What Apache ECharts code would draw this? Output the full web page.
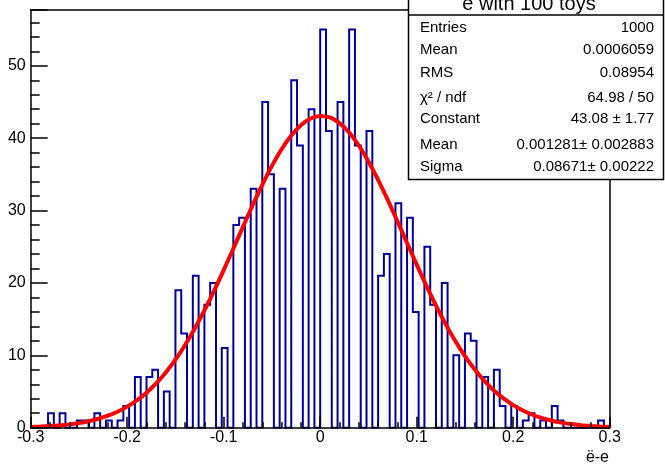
<!DOCTYPE html>
<html>
<head>
<meta charset="utf-8">
<script src="https://cdn.jsdelivr.net/npm/echarts@6/dist/echarts.min.js"></script>
<style>
html,body{margin:0;padding:0;background:#fff;}
#c{width:665px;height:466px;}
</style>
</head>
<body>
<div id="c"></div>
<script>
// ---- data ----
const xMin = -0.3;
const xMax = 0.3;
const nBins = 100;
const yMax = 57.75;
const binCounts = [
  0,0,0,2,0,2,0,0,1,1,
  0,2,0,1,0,1,3,0,7,0,
  7,8,0,5,0,19,13,0,21,0,
  17,20,0,11,0,28,29,0,33,0,
  45,35,0,33,0,48,39,0,44,0,
  55,41,0,45,0,55,39,0,41,0,
  21,24,0,31,0,29,16,0,25,17,
  0,20,0,10,0,13,12,0,7,0,
  8,3,0,3,0,1,2,0,1,0,
  3,1,0,0,0,0,0,0,1,0
];
const fitX = [
  -0.30,-0.29,-0.28,-0.27,-0.26,-0.25,-0.24,-0.23,-0.22,-0.21,
  -0.20,-0.19,-0.18,-0.17,-0.16,-0.15,-0.14,-0.13,-0.12,-0.11,
  -0.10,-0.09,-0.08,-0.07,-0.06,-0.05,-0.04,-0.03,-0.02,-0.01,
  0.00,0.01,0.02,0.03,0.04,0.05,0.06,0.07,0.08,0.09,
  0.10,0.11,0.12,0.13,0.14,0.15,0.16,0.17,0.18,0.19,
  0.20,0.21,0.22,0.23,0.24,0.25,0.26,0.27,0.28,0.29,0.30
];
const fitY = [
  0.10,0.15,0.22,0.32,0.46,0.65,0.90,1.23,1.66,2.21,
  2.91,3.78,4.84,6.12,7.64,9.40,11.43,13.70,16.20,18.91,
  21.78,24.76,27.76,30.73,33.56,36.17,38.47,40.37,41.80,42.72,
  43.08,42.86,42.09,40.78,38.99,36.79,34.25,31.47,28.53,25.52,
  22.53,19.63,16.87,14.31,11.98,9.90,8.07,6.49,5.15,4.04,
  3.12,2.38,1.79,1.33,0.97,0.70,0.50,0.35,0.25,0.17,0.11
];
const statsTitle = 'e with 100 toys';
const statsLabels = ['Entries','Mean','RMS','\u03C7\u00B2 / ndf','Constant','Mean','Sigma'];
const statsValues = ['1000','0.0006059','0.08954','64.98 / 50','43.08 \u00B1 1.77','0.001281\u00B1 0.002883','0.08671\u00B1 0.00222'];
const xTitle = '\u00EB-e';

// ---- build ----
const FONT = '"Liberation Sans", Arial, Helvetica, sans-serif';
const binW = (xMax - xMin) / nBins;
const histPts = [[xMin, 0]];
binCounts.forEach((c, i) => {
  const lo = xMin + i * binW;
  histPts.push([lo, c], [lo + binW, c]);
});
histPts.push([xMax, 0]);
const fitPts = fitX.map((x, i) => [x, fitY[i]]);

const chart = echarts.init(document.getElementById('c'), null, {width: 665, height: 466, renderer: 'canvas'});

const rowY = [27.5, 50, 73, 97.5, 119, 145, 166.5];
const graphics = [
  {type: 'rect', z: 100, shape: {x: 408.5, y: -2, width: 255, height: 181.5},
   style: {fill: '#fff', stroke: '#000', lineWidth: 1.5}},
  {type: 'line', z: 101, shape: {x1: 408.5, y1: 15, x2: 664, y2: 15},
   style: {stroke: '#000', lineWidth: 1.5}},
  {type: 'text', z: 102, x: 529, y: 4.5,
   style: {text: statsTitle, fontSize: 20, fontFamily: FONT, fill: '#000', align: 'center', verticalAlign: 'middle'}},
  {type: 'text', z: 50, x: 609, y: 458,
   style: {text: xTitle, fontSize: 16, fontFamily: FONT, fill: '#000', align: 'right', verticalAlign: 'middle'}}
];
statsLabels.forEach((t, i) => {
  graphics.push({type: 'text', z: 102, x: 420, y: rowY[i],
    style: {text: t, fontSize: 15, fontFamily: FONT, fill: '#000', align: 'left', verticalAlign: 'middle'}});
  graphics.push({type: 'text', z: 102, x: 654, y: rowY[i],
    style: {text: statsValues[i], fontSize: 15, fontFamily: FONT, fill: '#000', align: 'right', verticalAlign: 'middle'}});
});

const blackLine = {color: '#000', width: 1.5};
chart.setOption({
  animation: false,
  backgroundColor: '#fff',
  grid: {left: 30.7, right: 55.3, top: 9.7, bottom: 38.3, containLabel: false},
  xAxis: [
    {type: 'value', min: xMin, max: xMax, interval: 0.1, position: 'bottom', z: 5,
     axisLine: {show: true, onZero: false, lineStyle: blackLine},
     axisTick: {show: true, inside: true, length: 11, lineStyle: blackLine},
     axisLabel: {show: true, margin: 2, fontSize: 16, fontFamily: FONT, color: '#000',
       formatter: v => String(+(+v).toFixed(1))},
     splitLine: {show: false}},
    {type: 'value', min: xMin, max: xMax, interval: 0.02, position: 'bottom', z: 5,
     axisLine: {show: false, onZero: false},
     axisTick: {show: true, inside: true, length: 5.5, lineStyle: blackLine},
     axisLabel: {show: false}, splitLine: {show: false}},
    {type: 'value', min: xMin, max: xMax, position: 'top', z: 5,
     axisLine: {show: true, onZero: false, lineStyle: blackLine},
     axisTick: {show: false}, axisLabel: {show: false}, splitLine: {show: false}}
  ],
  yAxis: [
    {type: 'value', min: 0, max: yMax, interval: 10, position: 'left', z: 5,
     axisLine: {show: true, onZero: false, lineStyle: blackLine},
     axisTick: {show: true, inside: true, length: 17, lineStyle: blackLine},
     axisLabel: {show: true, margin: 5, fontSize: 16, fontFamily: FONT, color: '#000',
       formatter: v => (Math.abs(v % 10) < 1e-9 ? String(Math.round(v)) : '')},
     splitLine: {show: false}},
    {type: 'value', min: 0, max: yMax, interval: 2, position: 'left', z: 5,
     axisLine: {show: false, onZero: false},
     axisTick: {show: true, inside: true, length: 9, lineStyle: blackLine},
     axisLabel: {show: false}, splitLine: {show: false}},
    {type: 'value', min: 0, max: yMax, position: 'right', z: 5,
     axisLine: {show: true, onZero: false, lineStyle: blackLine},
     axisTick: {show: false}, axisLabel: {show: false}, splitLine: {show: false}}
  ],
  series: [
    {type: 'line', name: 'hist', xAxisIndex: 0, yAxisIndex: 0, data: histPts,
     symbol: 'none', smooth: false, z: 2,
     lineStyle: {color: '#000099', width: 2, join: 'miter', cap: 'butt'}},
    {type: 'line', name: 'fit', xAxisIndex: 0, yAxisIndex: 0, data: fitPts,
     symbol: 'none', smooth: 0.3, z: 3,
     lineStyle: {color: '#ff0000', width: 4}}
  ],
  graphic: graphics
});
</script>
</body>
</html>
